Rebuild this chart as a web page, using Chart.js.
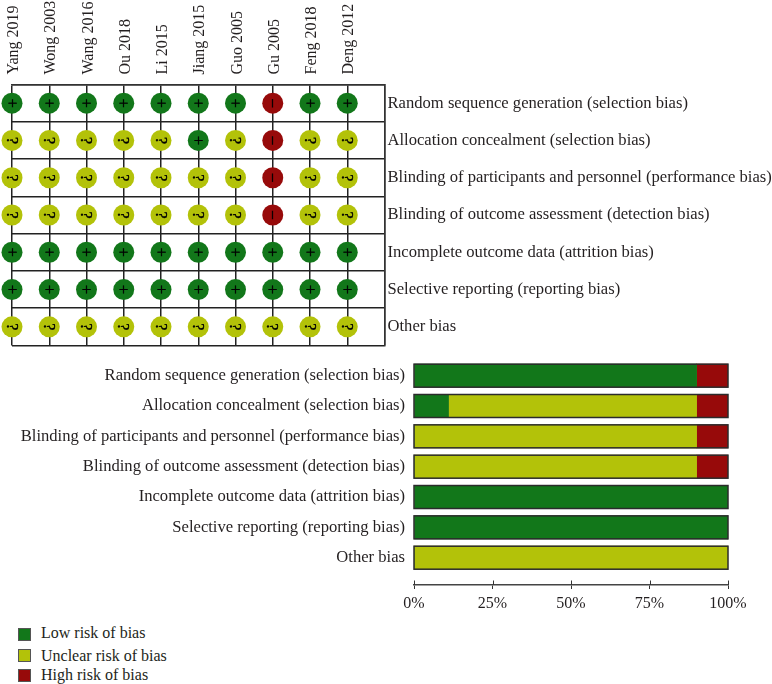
<!DOCTYPE html>
<html>
<head>
<meta charset="utf-8">
<script src="https://cdn.jsdelivr.net/npm/chart.js@4"></script>
<style>
	html, body { margin: 0; padding: 0; background: #fff; }
	body { position: relative; width: 772px; height: 684px; overflow: hidden; font-family: "Liberation Serif", serif; color: #231f20; }
	#grid-wrap { position: absolute; left: 0; top: 0; width: 772px; height: 356px; }
	#bars-wrap { position: absolute; left: 0; top: 356px; width: 772px; height: 260px; }
	.key { position: absolute; left: 18px; width: 11px; height: 11px; border: 1px solid #555; }
	.key-text { position: absolute; left: 41px; font-size: 16px; line-height: 16px; white-space: nowrap; }
</style>
</head>
<body>
<div id="grid-wrap"><canvas id="summary"></canvas></div>
<div id="bars-wrap"><canvas id="graph"></canvas></div>
<div id="legend"></div>
<script>
var studies = ["Yang 2019", "Wong 2003", "Wang 2016", "Ou 2018", "Li 2015", "Jiang 2015", "Guo 2005", "Gu 2005", "Feng 2018", "Deng 2012"];
var domains = [
	"Random sequence generation (selection bias)",
	"Allocation concealment (selection bias)",
	"Blinding of participants and personnel (performance bias)",
	"Blinding of outcome assessment (detection bias)",
	"Incomplete outcome data (attrition bias)",
	"Selective reporting (reporting bias)",
	"Other bias"
];

// one row per domain, one letter per study: L low, U unclear, H high
var judgements = [
	"LLLLLLLHLL",
	"UUUUULUHUU",
	"UUUUUUUHUU",
	"UUUUUUUHUU",
	"LLLLLLLLLL",
	"LLLLLLLLLL",
	"UUUUUUUUUU"
];

// percentages for the bottom graph
var lowPct = [90, 11, 0, 0, 100, 100, 0];
var unclearPct = [0, 79, 90, 90, 0, 0, 100];
var highPct = [10, 10, 10, 10, 0, 0, 0];
var pctTicks = [0, 25, 50, 75, 100];

var riskNames = ["Low risk of bias", "Unclear risk of bias", "High risk of bias"];
var riskColors = ["#12771a", "#b3c209", "#970a0a"];
var riskCodes = ["L", "U", "H"];
var riskSymbols = ["+", "?", "–"];

var serif = "'Liberation Serif', serif";
var ink = "#231f20";

function pointsFor(code) {
	var pts = [];
	judgements.forEach(function (row, r) {
		for (let c = 0; c < row.length; c++) {
			if (row[c] == code) pts.push({x: studies[c], y: domains[r]});
		}
	});
	return pts;
}

// the symbols in the circles are turned a quarter, like the study names
var symbolPlugin = {
	id: "symbols",
	afterDatasetsDraw: function (chart) {
		var ctx = chart.ctx;
		chart.data.datasets.forEach(function (ds, i) {
			chart.getDatasetMeta(i).data.forEach(function (pt) {
				ctx.save();
				ctx.translate(pt.x, pt.y);
				ctx.rotate(Math.PI / 2);
				ctx.fillStyle = "#000";
				ctx.strokeStyle = "#000";
				ctx.lineWidth = 0.4;
				ctx.font = "16px " + serif;
				ctx.textAlign = "center";
				ctx.textBaseline = "alphabetic";
				var m = ctx.measureText(riskSymbols[i]);
				var dy = (m.actualBoundingBoxAscent - m.actualBoundingBoxDescent) / 2;
				ctx.fillText(riskSymbols[i], 0, dy);
				ctx.strokeText(riskSymbols[i], 0, dy);
				ctx.restore();
			});
		});
	}
};

new Chart("summary", {
	type: "scatter",
	data: {
		datasets: riskCodes.map(function (code, i) {
			return {
				label: riskNames[i],
				data: pointsFor(code),
				pointRadius: 10.5,
				pointHoverRadius: 10.5,
				pointBorderWidth: 0,
				backgroundColor: riskColors[i],
				clip: false
			};
		})
	},
	plugins: [symbolPlugin],
	options: {
		responsive: true,
		maintainAspectRatio: false,
		animation: false,
		layout: {padding: {left: 12, right: 0, top: 0, bottom: 10}},
		plugins: {legend: {display: false}, tooltip: {enabled: false}},
		scales: {
			x: {
				type: "category",
				position: "top",
				labels: studies.concat([""]),
				offset: false,
				afterFit: function (s) { s.height = 84.5; s.paddingLeft = 0; s.paddingRight = 0; },
				grid: {color: "#222", lineWidth: 1.5, drawTicks: false},
				border: {color: "#333", width: 1.5},
				ticks: {
					minRotation: 90, maxRotation: 90, autoSkip: false, padding: 10, labelOffset: 21,
					color: ink, font: {family: serif, size: 16}
				}
			},
			y: {
				type: "category",
				position: "right",
				labels: domains,
				offset: true,
				afterFit: function (s) { s.width = 772 - 384.5; s.paddingTop = 0; s.paddingBottom = 0; },
				grid: {offset: true, color: "#222", lineWidth: 1.5, drawTicks: false},
				border: {color: "#333", width: 1.5},
				ticks: {
					padding: 3, autoSkip: false,
					color: ink, font: {family: serif, size: 16.6}
				}
			}
		}
	}
});

// outline round each bar, and the upper half of the axis ticks
var barExtras = {
	id: "barExtras",
	afterDatasetsDraw: function (chart) {
		var ctx = chart.ctx, x = chart.scales.x, y = chart.scales.y;
		var h = chart.data.datasets[0].barThickness;
		ctx.save();
		ctx.strokeStyle = "#2b2b2b";
		ctx.lineWidth = 1.5;
		domains.forEach(function (d, i) {
			ctx.strokeRect(x.getPixelForValue(0), y.getPixelForValue(i) - h / 2, x.getPixelForValue(100) - x.getPixelForValue(0), h);
		});
		ctx.strokeStyle = "#333";
		ctx.lineWidth = 1;
		pctTicks.forEach(function (t) {
			var px = Math.round(x.getPixelForValue(t)) + 0.5;
			ctx.beginPath();
			ctx.moveTo(px, chart.chartArea.bottom);
			ctx.lineTo(px, chart.chartArea.bottom - 4.5);
			ctx.stroke();
		});
		ctx.restore();
	}
};

function barData(values) {
	return values.map(function (v, i) { return {x: v, y: i}; });
}

new Chart("graph", {
	type: "bar",
	data: {
		datasets: [lowPct, unclearPct, highPct].map(function (vals, i) {
			return {
				label: riskNames[i],
				data: barData(vals),
				backgroundColor: riskColors[i],
				borderWidth: 0,
				barThickness: 23
			};
		})
	},
	plugins: [barExtras],
	options: {
		indexAxis: "y",
		responsive: true,
		maintainAspectRatio: false,
		animation: false,
		layout: {padding: {left: 0, right: 44, top: 4.5, bottom: 0}},
		plugins: {legend: {display: false}, tooltip: {enabled: false}},
		scales: {
			x: {
				type: "linear",
				stacked: true,
				min: 0,
				max: 100,
				afterBuildTicks: function (s) {
					s.ticks = pctTicks.map(function (v) { return {value: v}; });
				},
				afterFit: function (s) { s.height = 31; s.paddingLeft = 0; s.paddingRight = 0; },
				grid: {drawOnChartArea: false, tickLength: 4, color: "#333", tickWidth: 1},
				border: {color: "#444", width: 1.5},
				ticks: {
					padding: 5, maxRotation: 0,
					color: ink, font: {family: serif, size: 16},
					callback: function (v) { return v + "%"; }
				}
			},
			y: {
				type: "linear",
				stacked: true,
				offset: false,
				reverse: true,
				min: -0.5,
				max: 6.9,
				afterBuildTicks: function (s) {
					s.ticks = domains.map(function (d, i) { return {value: i}; });
				},
				afterFit: function (s) { s.width = 414; s.paddingTop = 0; s.paddingBottom = 0; },
				grid: {display: false},
				border: {display: false},
				ticks: {
					padding: 1, autoSkip: false,
					color: ink, font: {family: serif, size: 16.6},
					callback: function (v) { return domains[v]; }
				}
			}
		}
	}
});

// legend rows are not evenly spaced in the figure
var legendTops = [628, 649, 669];
var legendEl = document.getElementById("legend");
riskNames.forEach(function (name, i) {
	var box = document.createElement("div");
	box.className = "key";
	box.style.top = legendTops[i] + "px";
	box.style.background = riskColors[i];
	legendEl.appendChild(box);
	var txt = document.createElement("div");
	txt.className = "key-text";
	txt.style.top = [625, 648, 667][i] + "px";
	txt.textContent = name;
	legendEl.appendChild(txt);
});
</script>
</body>
</html>
